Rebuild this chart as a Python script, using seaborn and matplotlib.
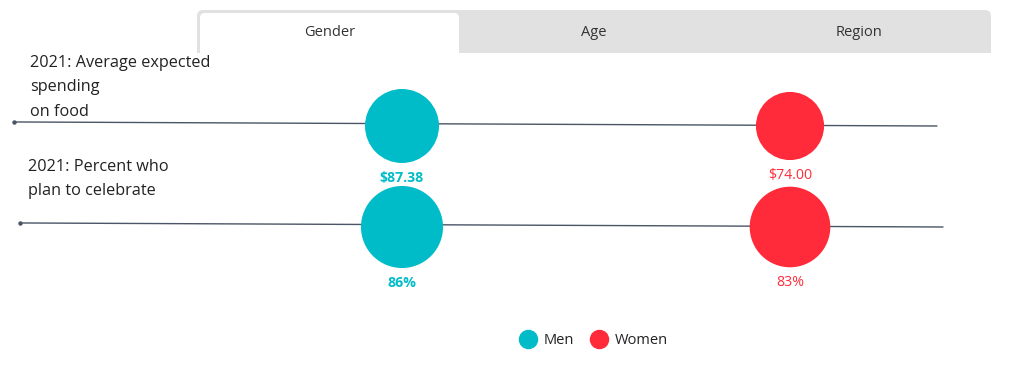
import numpy as np
import pandas as pd
import matplotlib
matplotlib.use("Agg")
import matplotlib.pyplot as plt
import seaborn as sns
from matplotlib.patches import FancyBboxPatch, Rectangle
from matplotlib.lines import Line2D
from matplotlib.transforms import blended_transform_factory

# data
tabs = ["Gender", "Age", "Region"]
metrics = ["2021: Average expected\nspending\non food", "2021: Percent who\nplan to celebrate"]
groups = ["Men", "Women"]
men_values = [87.38, 86]
women_values = [74.00, 83]
label_formats = ["${:.2f}", "{:.0f}%"]

colors = {"Men": "#00bcc8", "Women": "#ff2b3a"}
row_max_area = [2840, 3490]  # marker area of largest bubble in each row

df = pd.DataFrame({
    "metric": np.repeat(np.arange(len(metrics)), len(groups)),
    "group": groups * len(metrics),
    "value": [v for pair in zip(men_values, women_values) for v in pair],
})
df["gx"] = df["group"].map({g: i for i, g in enumerate(groups)})
df["area"] = df.apply(
    lambda r: row_max_area[r.metric] * r.value / df.loc[df.metric == r.metric, "value"].max(), axis=1)

sns.set_theme(style="white")
plt.rcParams["font.family"] = ["Open Sans", "DejaVu Sans"]

W, H = 1030, 367
fig = plt.figure(figsize=(W / 100, H / 100), dpi=100)

# background axes in pixel coordinates for the tabs and row labels
bg = fig.add_axes([0, 0, 1, 1])
bg.set_xlim(0, W)
bg.set_ylim(H, 0)
bg.axis("off")

bg.add_patch(FancyBboxPatch((197, 10), 794, 43, boxstyle="round,pad=0,rounding_size=6",
                            fc="#e1e1e1", ec="none"))
bg.add_patch(Rectangle((197, 40), 794, 13, fc="#e1e1e1", ec="none"))
bg.add_patch(FancyBboxPatch((200, 13), 259, 40, boxstyle="round,pad=0,rounding_size=5",
                            fc="white", ec="none"))
bg.add_patch(Rectangle((200, 40), 259, 14, fc="white", ec="none"))
tab_w = 794 / len(tabs)
for i, t in enumerate(tabs):
    bg.text(197 + tab_w * (i + 0.5), 32, t, ha="center", va="center",
            fontsize=10.5, color="#333333")

label_pos = [(30, 55), (28, 159)]
for (lx, ly), m in zip(label_pos, metrics):
    bg.text(lx, ly, m, ha="left", va="top", fontsize=11.7, color="#222222", linespacing=1.7)

# main axes: x = group index, y = metric index
ax = fig.add_axes([0, 0, 1, 1])
ax.patch.set_alpha(0)
px_x = 388.0
px_y = 101.0
ax.set_xlim(-402 / px_x, len(groups) - 1 + (W - 790) / px_x)
ax.set_ylim(len(metrics) - 1 + (H - 227) / px_y, -126 / px_y)
ax.axis("off")

tr = blended_transform_factory(ax.transAxes, ax.transData)
for i in range(len(metrics)):
    x0 = (14 + 6 * i) / W
    x1 = (937 + 6 * i) / W
    ax.plot([x0, x1], [i - 0.04, i], color="#4a5566", lw=1, transform=tr, zorder=1)
    ax.plot([x0], [i - 0.04], "o", ms=2.2, color="#4a5566", transform=tr, zorder=1)

sns.scatterplot(data=df, x="gx", y="metric", hue="group", palette=colors,
                s=df["area"].values, linewidth=0, alpha=1, legend=False, ax=ax, zorder=3)

for _, r in df.iterrows():
    rad_pt = np.sqrt(r.area) / 2
    is_max = r.value == df.loc[df.metric == r.metric, "value"].max()
    ax.annotate(label_formats[r.metric].format(r.value), (r.gx, r.metric),
                xytext=(0, -(rad_pt + 11)), textcoords="offset points",
                ha="center", va="center", fontsize=10.2,
                fontweight="bold" if is_max else "normal", color=colors[r.group])

handles = [Line2D([], [], marker="o", ls="", ms=13, color=colors[g]) for g in groups]
fig.legend(handles, groups, loc="center", bbox_to_anchor=(0.577, 0.073), ncol=2,
           frameon=False, fontsize=10.5, handletextpad=0.6, columnspacing=1.2,
           handlelength=1.0, labelcolor="#222222")

fig.savefig("out.png", dpi=100)
